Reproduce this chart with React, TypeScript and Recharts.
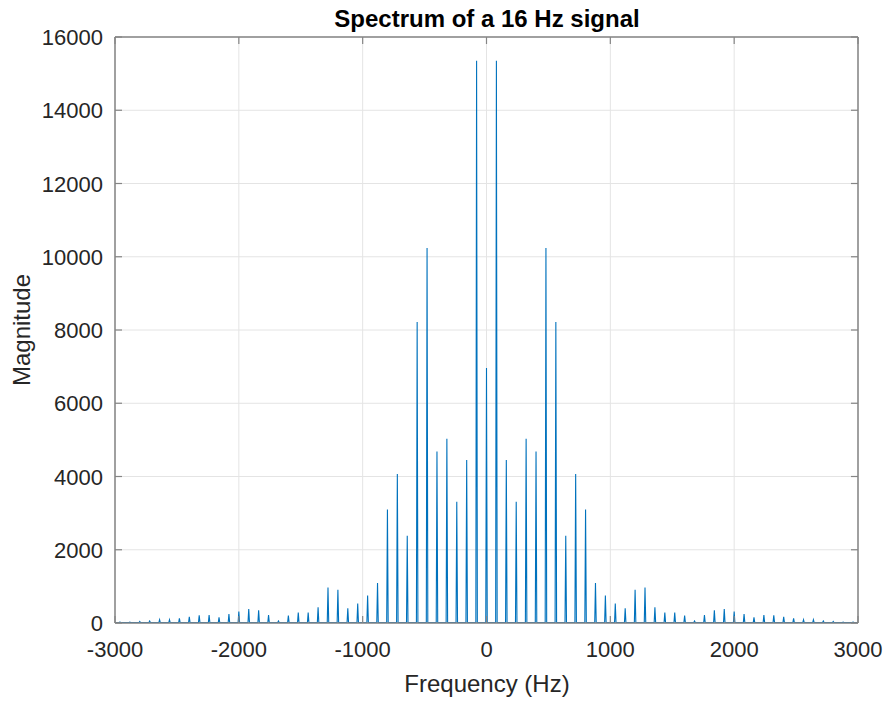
import { LineChart, Line, XAxis, YAxis, CartesianGrid } from "recharts";

// harmonics of the spectrum, positive side (Hz) and their magnitudes
const harmonicFreqs = [
  0, 80, 160, 240, 320, 400, 480, 560, 640, 720, 800, 880, 960, 1040, 1120, 1200, 1280, 1360, 1440,
  1520, 1600, 1680, 1760, 1840, 1920, 2000, 2080, 2160, 2240, 2320, 2400, 2480, 2560, 2640, 2720,
  2800, 2880, 2960,
];
const harmonicMagnitudes = [
  6960, 15350, 4450, 3310, 5030, 4680, 10240, 8220, 2380, 4070, 3100, 1090, 750, 535, 400, 905, 970,
  430, 283, 283, 200, 55, 218, 345, 380, 310, 247, 155, 220, 210, 170, 128, 90, 90, 55, 40, 25, 30,
];
const xTicks = [-3000, -2000, -1000, 0, 1000, 2000, 3000];
const yTicks = [0, 2000, 4000, 6000, 8000, 10000, 12000, 14000, 16000];

const noiseFloor = 12;
const spikeHalfWidth = 6;

// mirror the one-sided spectrum and turn every harmonic into a narrow spike
const buildSpectrum = () => {
  const peaks: { f: number; m: number }[] = [];
  for (let i = harmonicFreqs.length - 1; i > 0; i--) {
    peaks.push({ f: -harmonicFreqs[i], m: harmonicMagnitudes[i] });
  }
  for (let i = 0; i < harmonicFreqs.length; i++) {
    peaks.push({ f: harmonicFreqs[i], m: harmonicMagnitudes[i] });
  }
  const pts = [{ freq: -3000, mag: noiseFloor }];
  peaks.forEach((p) => {
    pts.push({ freq: p.f - spikeHalfWidth, mag: noiseFloor });
    pts.push({ freq: p.f, mag: p.m });
    pts.push({ freq: p.f + spikeHalfWidth, mag: noiseFloor });
  });
  pts.push({ freq: 3000, mag: noiseFloor });
  return pts;
};
const spectrum = buildSpectrum();

const FONT = "'Liberation Sans', Arial, Helvetica, sans-serif";
const TEXT = "#262626";
const BOX = "#858585";

const BottomTick = (props: any) => {
  const { x, y, payload } = props;
  return (
    <g>
      <line x1={x} y1={y} x2={x} y2={y - 7} stroke={BOX} strokeWidth={1.2} />
      <text x={x} y={y + 34} textAnchor="middle" fontFamily={FONT} fontSize={22} fill={TEXT}>
        {payload.value}
      </text>
    </g>
  );
};

const TopTick = (props: any) => {
  const { x, y } = props;
  return <line x1={x} y1={y} x2={x} y2={y + 7} stroke={BOX} strokeWidth={1.2} />;
};

const LeftTick = (props: any) => {
  const { x, y, payload } = props;
  return (
    <g>
      <line x1={x} y1={y} x2={x + 7} y2={y} stroke={BOX} strokeWidth={1.2} />
      <text x={x - 12} y={y + 8} textAnchor="end" fontFamily={FONT} fontSize={22} fill={TEXT}>
        {payload.value}
      </text>
    </g>
  );
};

const RightTick = (props: any) => {
  const { x, y } = props;
  return <line x1={x} y1={y} x2={x - 7} y2={y} stroke={BOX} strokeWidth={1.2} />;
};

export default function App() {
  return (
    <div style={{ position: "absolute", left: 0, top: 0, width: 887, height: 702, background: "#fff" }}>
      <LineChart
        width={887}
        height={702}
        data={spectrum}
        margin={{ top: 36, right: 28, bottom: 78, left: 114 }}
      >
        <CartesianGrid stroke="#e4e4e4" strokeWidth={1} />
        <XAxis
          dataKey="freq"
          type="number"
          domain={[-3000, 3000]}
          ticks={xTicks}
          height={1}
          tickSize={0}
          tickMargin={0}
          tickLine={false}
          tick={<BottomTick />}
          axisLine={{ stroke: BOX, strokeWidth: 1.5 }}
          interval={0}
          allowDataOverflow
        />
        <XAxis
          xAxisId="top"
          orientation="top"
          dataKey="freq"
          type="number"
          domain={[-3000, 3000]}
          ticks={xTicks}
          height={1}
          tickSize={0}
          tickMargin={0}
          tickLine={false}
          tick={<TopTick />}
          axisLine={{ stroke: BOX, strokeWidth: 1.5 }}
          interval={0}
          allowDataOverflow
        />
        <YAxis
          type="number"
          domain={[0, 16000]}
          ticks={yTicks}
          width={1}
          tickSize={0}
          tickMargin={0}
          tickLine={false}
          tick={<LeftTick />}
          axisLine={{ stroke: BOX, strokeWidth: 1.5 }}
          interval={0}
          allowDataOverflow
        />
        <YAxis
          yAxisId="right"
          orientation="right"
          type="number"
          domain={[0, 16000]}
          ticks={yTicks}
          width={1}
          tickSize={0}
          tickMargin={0}
          tickLine={false}
          tick={<RightTick />}
          axisLine={{ stroke: BOX, strokeWidth: 1.5 }}
          interval={0}
          allowDataOverflow
        />
        <Line
          type="linear"
          dataKey="mag"
          stroke="#0072BD"
          strokeWidth={1.1}
          dot={false}
          activeDot={false}
          isAnimationActive={false}
        />
        <Line
          xAxisId="top"
          yAxisId="right"
          type="linear"
          dataKey="mag"
          stroke="none"
          dot={false}
          activeDot={false}
          isAnimationActive={false}
        />
      </LineChart>
      <svg
        width={887}
        height={702}
        style={{ position: "absolute", left: 0, top: 0, pointerEvents: "none" }}
      >
        <text x={487} y={27} textAnchor="middle" fontFamily={FONT} fontSize={24} fontWeight="bold" fill="#000">
          Spectrum of a 16 Hz signal
        </text>
        <text x={487} y={692} textAnchor="middle" fontFamily={FONT} fontSize={24} fill={TEXT}>
          Frequency (Hz)
        </text>
        <text
          x={0}
          y={0}
          transform="translate(30 330) rotate(-90)"
          textAnchor="middle"
          fontFamily={FONT}
          fontSize={24}
          fill={TEXT}
        >
          Magnitude
        </text>
      </svg>
    </div>
  );
}
